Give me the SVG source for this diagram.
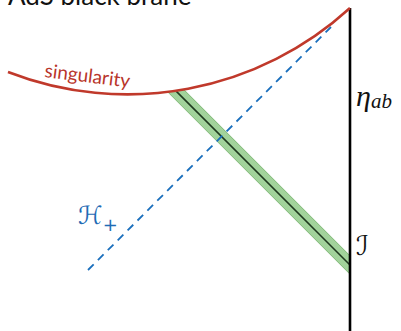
<svg xmlns="http://www.w3.org/2000/svg" width="401" height="331" viewBox="0 0 401 331">
<style>
.title{font-family:"Lato","Open Sans","Liberation Sans",sans-serif;font-size:26px;fill:#111}
.sing{font-family:"Lato","Open Sans","Liberation Sans",sans-serif;font-size:19px;fill:#b8342a}
.math{font-family:"Liberation Serif","DejaVu Serif",serif;font-style:italic;fill:#111}
.script{font-family:"DejaVu Sans","DejaVu Serif",sans-serif}
</style>
<rect width="401" height="331" fill="#fff"/>
<text class="title" x="8" y="5">AdS black brane</text>
<g id="connectors">
  <g id="shell">
    <polygon points="167.8,92 183.8,89.6 350,255.8 350,274.2" fill="#a2d39b" stroke="#6fae66" stroke-width="0.8"/>
    <line x1="175.9" y1="90.9" x2="350" y2="265" stroke="#1f3a1f" stroke-width="1.6"/>
  </g>
  <line id="horizon" x1="88" y1="270" x2="331" y2="27" stroke="#1a6fbd" stroke-width="1.8" stroke-dasharray="8 6"/>
  <line id="boundary" x1="350" y1="8" x2="350" y2="331" stroke="#000" stroke-width="2.6"/>
  <path id="singularity-curve" d="M8,72 A330,330 0 0 0 350,8" fill="none" stroke="#c0392b" stroke-width="2.6"/>
</g>
<g id="singularity">
  <text class="sing" transform="translate(44,77) rotate(7)">singularity</text>
</g>
<g id="eta">
  <text class="math" x="356" y="106" font-size="30">η<tspan font-size="21" dy="2">ab</tspan></text>
</g>
<g id="scri">
  <text class="script" x="356" y="255" font-size="27" fill="#111">ℐ</text>
</g>
<g id="H-plus">
  <text class="script" x="78" y="224" font-size="25" fill="#1f6cb5">ℋ<tspan font-size="18" dy="7">+</tspan></text>
</g>
</svg>
